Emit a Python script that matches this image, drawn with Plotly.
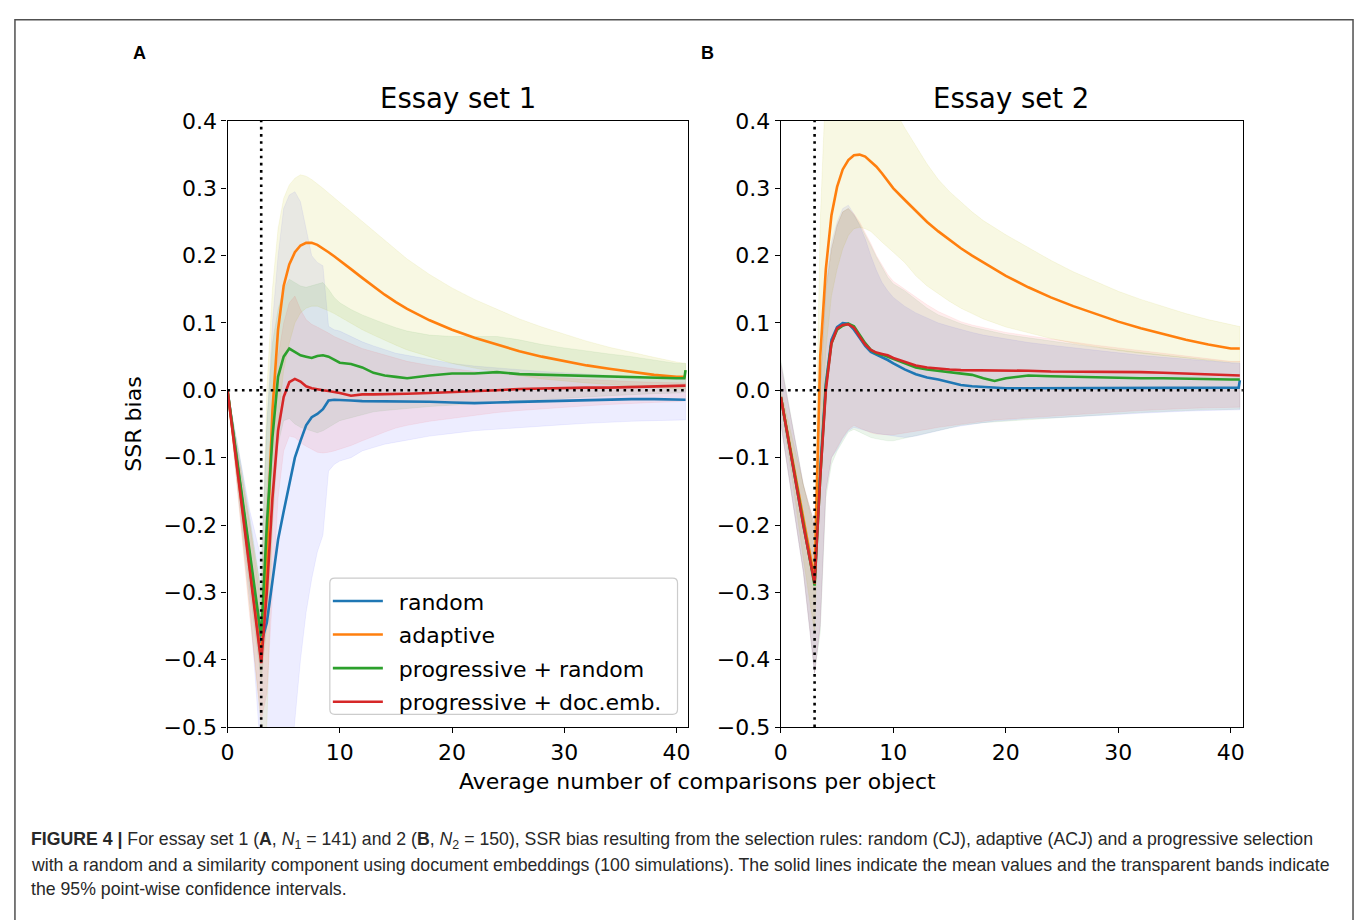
import plotly.graph_objects as go

W, H = 1358, 920

# ---------------- Essay set 1 ----------------
x_set1 = [0, 1, 2, 3, 3.5, 4, 4.5, 5, 5.5, 6, 6.5, 7, 7.5, 8, 8.5, 9, 9.5, 10,
          11, 12, 13, 14, 15, 16, 18, 20, 22, 24, 26, 28, 30, 32, 34, 36, 38, 40,
          40.7, 40.8]

random_set1 = [0, -0.125, -0.25, -0.375, -0.345, -0.28, -0.222, -0.18, -0.14, -0.10,
               -0.075, -0.052, -0.04, -0.035, -0.028, -0.015, -0.014, -0.014,
               -0.015, -0.016, -0.016, -0.017, -0.016, -0.016, -0.017, -0.018, -0.019,
               -0.018, -0.017, -0.016, -0.015, -0.014, -0.014, -0.013, -0.013, -0.014,
               -0.014, -0.014]
random_set1_lo = [0, -0.16, -0.32, -0.55, -0.6, -0.6, -0.6, -0.6, -0.58, -0.5, -0.4,
                  -0.33, -0.28, -0.24, -0.215, -0.12, -0.11, -0.105, -0.1, -0.09,
                  -0.085, -0.08, -0.077, -0.074, -0.068, -0.064, -0.06, -0.057, -0.055,
                  -0.053, -0.051, -0.049, -0.047, -0.046, -0.045, -0.044, -0.044, -0.044]
random_set1_hi = [0, -0.09, -0.18, -0.25, -0.05, 0.1, 0.2, 0.27, 0.29, 0.295, 0.28,
                  0.24, 0.2, 0.19, 0.185, 0.095, 0.09, 0.088, 0.08, 0.072, 0.066, 0.06,
                  0.055, 0.052, 0.046, 0.04, 0.036, 0.033, 0.03, 0.028, 0.026, 0.024,
                  0.022, 0.02, 0.018, 0.016, 0.016, 0.016]

adaptive_set1 = [0, -0.13, -0.265, -0.40, -0.25, -0.03, 0.09, 0.155, 0.187, 0.205,
                 0.215, 0.219, 0.219, 0.216, 0.211, 0.205, 0.199, 0.193, 0.18, 0.167,
                 0.154, 0.142, 0.131, 0.121, 0.104, 0.09, 0.078, 0.068, 0.058, 0.05,
                 0.043, 0.037, 0.032, 0.027, 0.023, 0.02, 0.02, 0.02]
adaptive_set1_lo = [0, -0.16, -0.33, -0.5, -0.5, -0.2, -0.05, 0.03, 0.07, 0.1, 0.115,
                    0.122, 0.125, 0.125, 0.122, 0.118, 0.114, 0.11, 0.1, 0.09, 0.082,
                    0.074, 0.067, 0.06, 0.05, 0.04, 0.033, 0.027, 0.022, 0.017, 0.014,
                    0.011, 0.008, 0.006, 0.004, 0.002, 0.002, 0.002]
adaptive_set1_hi = [0, -0.1, -0.2, -0.3, 0.0, 0.15, 0.24, 0.285, 0.305, 0.315, 0.32,
                    0.318, 0.313, 0.307, 0.3, 0.293, 0.286, 0.279, 0.265, 0.25, 0.236,
                    0.222, 0.208, 0.195, 0.172, 0.152, 0.135, 0.12, 0.106, 0.094, 0.083,
                    0.073, 0.064, 0.056, 0.049, 0.042, 0.04, 0.04]

prog_rand_set1 = [0, -0.12, -0.245, -0.365, -0.2, -0.07, 0.02, 0.05, 0.062, 0.057,
                  0.052, 0.05, 0.048, 0.051, 0.052, 0.05, 0.045, 0.041, 0.039, 0.034,
                  0.026, 0.022, 0.02, 0.018, 0.022, 0.025, 0.025, 0.027, 0.024, 0.023,
                  0.022, 0.021, 0.021, 0.02, 0.019, 0.018, 0.018, 0.03]
prog_rand_set1_lo = [0, -0.15, -0.3, -0.43, -0.35, -0.2, -0.08, -0.045, -0.042, -0.05,
                     -0.055, -0.058, -0.06, -0.063, -0.06, -0.055, -0.05, -0.045, -0.04,
                     -0.036, -0.032, -0.03, -0.028, -0.027, -0.024, -0.021, -0.019,
                     -0.017, -0.015, -0.014, -0.012, -0.01, -0.008, -0.006, -0.005,
                     -0.004, -0.003, -0.003]
prog_rand_set1_hi = [0, -0.09, -0.19, -0.3, -0.05, 0.07, 0.12, 0.15, 0.165, 0.16, 0.155,
                     0.153, 0.155, 0.158, 0.16, 0.15, 0.138, 0.13, 0.12, 0.112, 0.105,
                     0.099, 0.093, 0.088, 0.082, 0.08, 0.08, 0.08, 0.075, 0.068, 0.063,
                     0.058, 0.054, 0.05, 0.045, 0.04, 0.04, 0.04]

prog_emb_set1 = [0, -0.135, -0.27, -0.405, -0.3, -0.16, -0.06, -0.01, 0.012, 0.017,
                 0.013, 0.006, 0.003, 0.001, 0.0, -0.001, -0.002, -0.004, -0.008, -0.006,
                 -0.006, -0.006, -0.006, -0.005, -0.004, -0.003, -0.002, 0.0, 0.002,
                 0.003, 0.003, 0.004, 0.004, 0.005, 0.006, 0.007, 0.007, 0.007]
prog_emb_set1_lo = [0, -0.17, -0.34, -0.49, -0.45, -0.3, -0.16, -0.09, -0.068, -0.07,
                    -0.078, -0.083, -0.088, -0.092, -0.093, -0.092, -0.09, -0.088,
                    -0.082, -0.075, -0.068, -0.062, -0.056, -0.052, -0.046, -0.041,
                    -0.037, -0.033, -0.03, -0.027, -0.025, -0.023, -0.021, -0.019,
                    -0.018, -0.017, -0.016, -0.016]
prog_emb_set1_hi = [0, -0.1, -0.2, -0.32, -0.15, -0.03, 0.05, 0.1, 0.13, 0.14, 0.12,
                    0.105, 0.098, 0.094, 0.09, 0.085, 0.08, 0.076, 0.069, 0.062, 0.057,
                    0.052, 0.047, 0.043, 0.037, 0.032, 0.028, 0.025, 0.022, 0.02, 0.018,
                    0.016, 0.014, 0.013, 0.012, 0.011, 0.011, 0.011]

# ---------------- Essay set 2 ----------------
x_set2 = [0, 1, 2, 3, 3.5, 4, 4.5, 5, 5.5, 6, 6.5, 7, 7.5, 8, 8.5, 9, 9.5, 10,
          11, 12, 13, 14, 15, 16, 17, 18, 19, 20, 22, 24, 26, 28, 30, 32, 34, 36,
          38, 40, 40.7, 40.8]

random_set2 = [-0.01, -0.105, -0.2, -0.285, -0.12, 0.01, 0.075, 0.094, 0.1, 0.099, 0.09,
               0.078, 0.066, 0.057, 0.053, 0.05, 0.045, 0.04, 0.031, 0.024, 0.019, 0.016,
               0.012, 0.008, 0.006, 0.005, 0.004, 0.003, 0.003, 0.003, 0.003, 0.003,
               0.003, 0.003, 0.003, 0.004, 0.004, 0.004, 0.004, 0.015]
random_set2_lo = [-0.05, -0.16, -0.27, -0.42, -0.35, -0.15, -0.1, -0.088, -0.072, -0.06,
                  -0.055, -0.058, -0.06, -0.062, -0.064, -0.066, -0.067, -0.068, -0.07,
                  -0.068, -0.064, -0.06, -0.056, -0.053, -0.05, -0.048, -0.046, -0.044,
                  -0.042, -0.041, -0.04, -0.038, -0.036, -0.034, -0.032, -0.031, -0.03,
                  -0.029, -0.029, -0.029]
random_set2_hi = [0.04, -0.05, -0.14, -0.2, 0.0, 0.16, 0.22, 0.25, 0.27, 0.275, 0.262,
                  0.245, 0.225, 0.2, 0.178, 0.16, 0.148, 0.138, 0.125, 0.115, 0.107, 0.1,
                  0.095, 0.09, 0.086, 0.082, 0.079, 0.076, 0.071, 0.067, 0.063, 0.059,
                  0.055, 0.052, 0.049, 0.046, 0.043, 0.04, 0.04, 0.04]

adaptive_set2 = [-0.01, -0.1, -0.195, -0.28, 0.05, 0.18, 0.26, 0.302, 0.328, 0.342,
                 0.349, 0.35, 0.347, 0.34, 0.332, 0.322, 0.311, 0.3, 0.283, 0.266, 0.25,
                 0.236, 0.223, 0.211, 0.2, 0.19, 0.18, 0.17, 0.153, 0.138, 0.125, 0.113,
                 0.102, 0.092, 0.083, 0.075, 0.068, 0.062, 0.062, 0.062]
adaptive_set2_lo = [-0.02, -0.13, -0.25, -0.36, -0.1, 0.06, 0.14, 0.18, 0.21, 0.23, 0.24,
                    0.242, 0.24, 0.236, 0.228, 0.22, 0.212, 0.205, 0.19, 0.17, 0.155,
                    0.143, 0.132, 0.122, 0.114, 0.106, 0.1, 0.094, 0.085, 0.077, 0.07,
                    0.064, 0.059, 0.055, 0.051, 0.048, 0.045, 0.042, 0.042, 0.042]
adaptive_set2_hi = [0.0, -0.07, -0.14, -0.2, 0.25, 0.46, 0.5, 0.52, 0.53, 0.53, 0.525,
                    0.515, 0.5, 0.49, 0.475, 0.455, 0.437, 0.42, 0.39, 0.362, 0.336,
                    0.313, 0.295, 0.28, 0.265, 0.252, 0.241, 0.231, 0.212, 0.193, 0.176,
                    0.161, 0.147, 0.135, 0.124, 0.114, 0.105, 0.097, 0.095, 0.095]

prog_rand_set2 = [-0.01, -0.105, -0.2, -0.29, -0.13, 0.005, 0.07, 0.09, 0.096, 0.099,
                  0.095, 0.083, 0.07, 0.06, 0.055, 0.053, 0.05, 0.047, 0.04, 0.034,
                  0.031, 0.029, 0.027, 0.025, 0.023, 0.018, 0.014, 0.018, 0.022, 0.021,
                  0.02, 0.02, 0.019, 0.018, 0.018, 0.017, 0.017, 0.016, 0.016, 0.016]
prog_rand_set2_lo = [-0.05, -0.16, -0.27, -0.42, -0.36, -0.16, -0.11, -0.09, -0.075,
                     -0.062, -0.058, -0.062, -0.066, -0.07, -0.072, -0.074, -0.075,
                     -0.075, -0.072, -0.068, -0.064, -0.06, -0.056, -0.052, -0.05,
                     -0.048, -0.047, -0.045, -0.043, -0.041, -0.039, -0.037, -0.035,
                     -0.033, -0.031, -0.03, -0.029, -0.028, -0.028, -0.028]
prog_rand_set2_hi = [0.045, -0.05, -0.14, -0.21, 0.0, 0.15, 0.21, 0.245, 0.265, 0.27,
                     0.26, 0.247, 0.232, 0.215, 0.198, 0.182, 0.168, 0.158, 0.148, 0.135,
                     0.122, 0.112, 0.105, 0.099, 0.094, 0.09, 0.086, 0.083, 0.078, 0.073,
                     0.068, 0.064, 0.06, 0.056, 0.052, 0.048, 0.044, 0.041, 0.041, 0.041]

prog_emb_set2 = [-0.01, -0.105, -0.2, -0.287, -0.13, 0.0, 0.07, 0.092, 0.097, 0.098,
                 0.093, 0.08, 0.068, 0.06, 0.056, 0.054, 0.052, 0.048, 0.042, 0.037,
                 0.034, 0.032, 0.031, 0.03, 0.03, 0.03, 0.03, 0.029, 0.029, 0.028, 0.028,
                 0.028, 0.027, 0.027, 0.026, 0.025, 0.024, 0.022, 0.022, 0.022]
prog_emb_set2_lo = [-0.05, -0.16, -0.27, -0.42, -0.35, -0.15, -0.1, -0.085, -0.07,
                    -0.058, -0.052, -0.056, -0.06, -0.063, -0.065, -0.066, -0.066,
                    -0.066, -0.064, -0.061, -0.058, -0.055, -0.052, -0.05, -0.048,
                    -0.046, -0.044, -0.042, -0.04, -0.038, -0.036, -0.034, -0.032, -0.03,
                    -0.028, -0.027, -0.026, -0.025, -0.025, -0.025]
prog_emb_set2_hi = [0.04, -0.05, -0.14, -0.2, 0.0, 0.15, 0.21, 0.245, 0.265, 0.27, 0.262,
                    0.25, 0.235, 0.218, 0.2, 0.185, 0.172, 0.162, 0.15, 0.138, 0.127,
                    0.117, 0.109, 0.102, 0.097, 0.093, 0.089, 0.086, 0.081, 0.076, 0.071,
                    0.067, 0.063, 0.059, 0.055, 0.051, 0.047, 0.043, 0.043, 0.043]

series_names = ["random", "adaptive", "progressive + random", "progressive + doc.emb."]
line_colors = ["#1f77b4", "#ff7f0e", "#2ca02c", "#d62728"]
band_colors = ["rgba(0,0,255,0.07)", "rgba(191,191,0,0.11)",
               "rgba(0,128,0,0.08)", "rgba(255,0,0,0.07)"]
panel_titles = ["Essay set 1", "Essay set 2"]
panel_letters = ["A", "B"]
x_ticks = [0, 10, 20, 30, 40]
split_point = 3

panels = [
    (x_set1, [random_set1, adaptive_set1, prog_rand_set1, prog_emb_set1],
     [(random_set1_lo, random_set1_hi), (adaptive_set1_lo, adaptive_set1_hi),
      (prog_rand_set1_lo, prog_rand_set1_hi), (prog_emb_set1_lo, prog_emb_set1_hi)]),
    (x_set2, [random_set2, adaptive_set2, prog_rand_set2, prog_emb_set2],
     [(random_set2_lo, random_set2_hi), (adaptive_set2_lo, adaptive_set2_hi),
      (prog_rand_set2_lo, prog_rand_set2_hi), (prog_emb_set2_lo, prog_emb_set2_hi)]),
]

FONT = "DejaVu Sans"
px_x = lambda p: p / W
px_y = lambda p: 1 - p / H

fig = go.Figure()

for k, (xs, means, bands) in enumerate(panels):
    xa = "x" if k == 0 else "x2"
    ya = "y" if k == 0 else "y2"
    # confidence bands
    for (lo, hi), bc in zip(bands, band_colors):
        fig.add_trace(go.Scatter(
            x=list(xs) + list(xs)[::-1], y=list(hi) + list(lo)[::-1],
            fill="toself", fillcolor=bc, mode="lines",
            line=dict(color=bc, width=0.8), hoverinfo="skip",
            showlegend=False, xaxis=xa, yaxis=ya))
    # mean curves
    for name, ys, lc in zip(series_names, means, line_colors):
        fig.add_trace(go.Scatter(
            x=xs, y=ys, mode="lines", name="\u2002" + name, legendgroup=name,
            line=dict(color=lc, width=2.6),
            showlegend=(k == 0), xaxis=xa, yaxis=ya))

axis_common = dict(
    showline=True, mirror=True, linecolor="black", linewidth=1.3,
    ticks="outside", ticklen=5, tickwidth=1.3, tickcolor="black",
    showgrid=False, zeroline=False,
    tickfont=dict(family=FONT, size=22, color="black"),
)
ydom = [px_y(735), px_y(112)]
fig.update_layout(
    xaxis=dict(axis_common, domain=[px_x(222), px_x(686)], range=[0, 41.06],
               tickvals=x_ticks, anchor="y"),
    yaxis=dict(axis_common, domain=ydom, range=[-0.5, 0.4], dtick=0.1,
               tickformat=".1f", anchor="x"),
    xaxis2=dict(axis_common, domain=[px_x(779), px_x(1244)], range=[0, 41.06],
                tickvals=x_ticks, anchor="y2"),
    yaxis2=dict(axis_common, domain=ydom, range=[-0.5, 0.4], dtick=0.1,
                tickformat=".1f", anchor="x2"),
)

shapes = []
# dotted reference lines
for xa, ya in [("x", "y"), ("x2", "y2")]:
    shapes.append(dict(type="line", xref=xa, yref=f"{ya} domain", x0=split_point,
                       x1=split_point, y0=0, y1=1, layer="above",
                       line=dict(color="black", width=2.6, dash="2.6px,4.6px")))
    shapes.append(dict(type="line", xref=f"{xa} domain", yref=ya, x0=0, x1=1,
                       y0=0, y1=0, layer="above",
                       line=dict(color="black", width=2.6, dash="2.6px,4.6px")))

# rounded legend frame
lx0, lx1, ly0, ly1 = 325, 675, 582, 722
r = 5
rx, ry = r / W, r / H
X0, X1, Y0, Y1 = px_x(lx0), px_x(lx1), px_y(ly1), px_y(ly0)
path = (f"M{X0+rx},{Y0} L{X1-rx},{Y0} Q{X1},{Y0} {X1},{Y0+ry} "
        f"L{X1},{Y1-ry} Q{X1},{Y1} {X1-rx},{Y1} L{X0+rx},{Y1} "
        f"Q{X0},{Y1} {X0},{Y1-ry} L{X0},{Y0+ry} Q{X0},{Y0} {X0+rx},{Y0} Z")
shapes.append(dict(type="path", xref="paper", yref="paper", path=path, layer="above",
                   fillcolor="rgba(255,255,255,0.8)",
                   line=dict(color="rgb(204,204,204)", width=1.2)))

# outer frame of the figure
shapes.append(dict(type="rect", xref="paper", yref="paper", x0=px_x(8), x1=px_x(1355),
                   y0=-0.05, y1=px_y(8), line=dict(color="rgb(80,80,80)", width=1.5),
                   fillcolor="rgba(0,0,0,0)", layer="above"))

annotations = []
for k, (title, letter) in enumerate(zip(panel_titles, panel_letters)):
    cx = [454, 1011][k]
    annotations.append(dict(text=title, x=px_x(cx), y=px_y(88), xref="paper",
                            yref="paper", showarrow=False, xanchor="center",
                            yanchor="middle",
                            font=dict(family=FONT, size=27.5, color="black")))
    annotations.append(dict(text=f"<b>{letter}</b>", x=px_x([133, 705][k]),
                            y=px_y(42), xref="paper", yref="paper", showarrow=False,
                            xanchor="center", yanchor="middle",
                            font=dict(family="Liberation Sans", size=18, color="black")))

annotations.append(dict(text="Average number of comparisons per object",
                        x=px_x(695), y=px_y(791), xref="paper", yref="paper",
                        showarrow=False, xanchor="center", yanchor="middle",
                        font=dict(family=FONT, size=22, color="black")))
annotations.append(dict(text="SSR bias", x=px_x(127), y=px_y(424), xref="paper",
                        yref="paper", showarrow=False, textangle=-90,
                        xanchor="center", yanchor="middle",
                        font=dict(family=FONT, size=22, color="black")))

caption_lines = [
    "<b>FIGURE 4 |</b> For essay set 1 (<b>A</b>, <i>N</i><sub>1</sub> = 141) and 2 "
    "(<b>B</b>, <i>N</i><sub>2</sub> = 150), SSR bias resulting from the selection rules: "
    "random (CJ), adaptive (ACJ) and a progressive selection",
    "with a random and a similarity component using document embeddings (100 "
    "simulations). The solid lines indicate the mean values and the transparent bands "
    "indicate",
    "the 95% point-wise confidence intervals.",
]
for i, line in enumerate(caption_lines):
    annotations.append(dict(text=line, x=px_x(22), y=px_y(852 + 24.5 * i),
                            xref="paper", yref="paper", showarrow=False,
                            xanchor="left", yanchor="middle",
                            font=dict(family="Liberation Sans", size=17.7,
                                      color="rgb(40,40,40)")))

fig.update_layout(
    width=W, height=H, margin=dict(l=0, r=0, t=0, b=0),
    paper_bgcolor="white", plot_bgcolor="white",
    shapes=shapes, annotations=annotations,
    legend=dict(x=px_x(323), y=px_y(584), xanchor="left", yanchor="top",
                bgcolor="rgba(0,0,0,0)", borderwidth=0, itemwidth=50,
                tracegroupgap=2,
                font=dict(family=FONT, size=22, color="black")),
)

fig.write_html("out.html")
